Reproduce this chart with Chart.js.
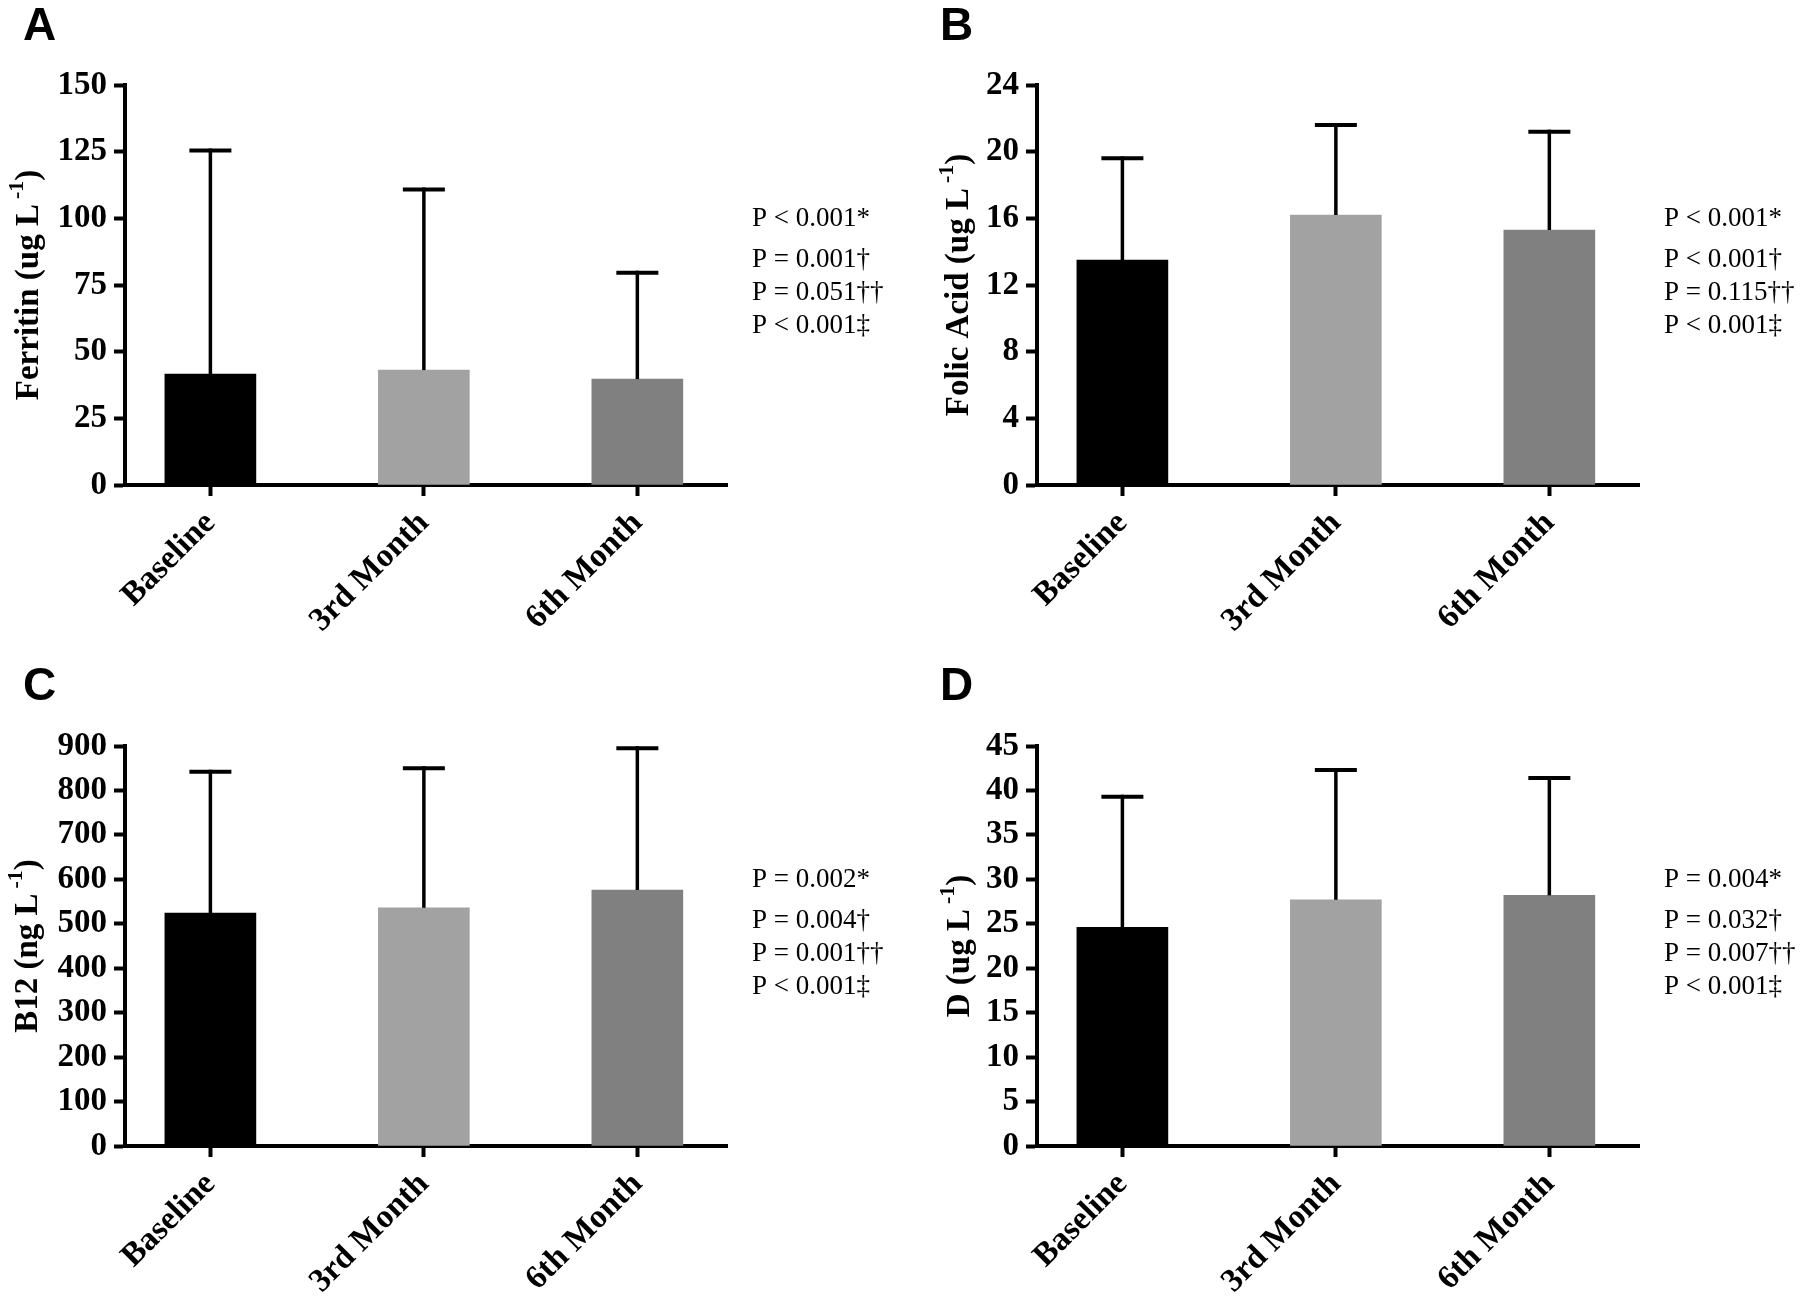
<!DOCTYPE html>
<html><head><meta charset="utf-8">
<script src="https://cdn.jsdelivr.net/npm/chart.js@4.4.1/dist/chart.umd.min.js"></script>
<style>
html,body{margin:0;padding:0;background:#fff;overflow:hidden;width:1816px;height:1299px;}
.panel{position:absolute;width:904px;height:650px;}
</style></head><body>
<div class="panel" style="left:0px;top:0px"><canvas id="cA"></canvas></div>
<div class="panel" style="left:912px;top:0px"><canvas id="cB"></canvas></div>
<div class="panel" style="left:0px;top:661px"><canvas id="cC"></canvas></div>
<div class="panel" style="left:912px;top:661px"><canvas id="cD"></canvas></div>
<script>
// ---- data ----
const categories = ['Baseline', '3rd Month', '6th Month'];
const barColors = ['#000000', '#a2a2a2', '#808080'];

const ferritinMean = [41.6, 43.1, 39.7];
const ferritinSD   = [83.8, 67.7, 39.9];
const ferritinTicks = [0, 150, 25];
const ferritinTitle = ['Ferritin (ug L', '-1', ')'];
const ferritinP = ['P < 0.001*', 'P = 0.001\u2020', 'P = 0.051\u2020\u2020', 'P < 0.001\u2021'];

const folicMean = [13.5, 16.2, 15.3];
const folicSD   = [6.1, 5.4, 5.9];
const folicTicks = [0, 24, 4];
const folicTitle = ['Folic Acid (ug L', '-1', ')'];
const folicP = ['P < 0.001*', 'P < 0.001\u2020', 'P = 0.115\u2020\u2020', 'P < 0.001\u2021'];

const b12Mean = [524, 536, 576];
const b12SD   = [318, 314, 319];
const b12Ticks = [0, 900, 100];
const b12Title = ['B12 (ng L', '-1', ')'];
const b12P = ['P = 0.002*', 'P = 0.004\u2020', 'P = 0.001\u2020\u2020', 'P < 0.001\u2021'];

const dMean = [24.6, 27.7, 28.2];
const dSD   = [14.7, 14.6, 13.2];
const dTicks = [0, 45, 5];
const dTitle = ['D (ug L', '-1', ')'];
const dP = ['P = 0.004*', 'P = 0.032\u2020', 'P = 0.007\u2020\u2020', 'P < 0.001\u2021'];

// ---- plugins ----
const errorBarPlugin = {
  id: 'errbars',
  afterDatasetsDraw(chart, args, opts) {
    const xs = chart.scales.x, ys = chart.scales.y, ctx = chart.ctx;
    ctx.save();
    ctx.strokeStyle = '#000';
    ctx.lineCap = 'butt';
    opts.means.forEach((m, i) => {
      const px = xs.getPixelForValue(i);
      const y0 = ys.getPixelForValue(m);
      const y1 = ys.getPixelForValue(m + opts.sds[i]);
      ctx.lineWidth = 3.5;
      ctx.beginPath(); ctx.moveTo(px, y0); ctx.lineTo(px, y1 - 2); ctx.stroke();
      ctx.lineWidth = 4;
      ctx.beginPath(); ctx.moveTo(px - 21, y1); ctx.lineTo(px + 21, y1); ctx.stroke();
    });
    ctx.restore();
  }
};

const annotPlugin = {
  id: 'annot',
  afterDraw(chart, args, o) {
    const ctx = chart.ctx, ca = chart.chartArea;
    ctx.save();
    ctx.fillStyle = '#000';
    // panel letter
    ctx.font = 'bold 46px "Liberation Sans", Arial, sans-serif';
    ctx.textAlign = 'left'; ctx.textBaseline = 'alphabetic';
    ctx.fillText(o.letter, o.letterX, o.letterY);
    // P values
    ctx.font = '27px "Liberation Serif", "Times New Roman", serif';
    const offs = [141, 182, 215, 248];
    o.pText.forEach((t, i) => ctx.fillText(t, ca.left + 627, ca.top + offs[i]));
    // rotated y title with superscript
    const f = 33, fs = 22;
    const mainFont = 'bold ' + f + 'px "Liberation Serif", "Times New Roman", serif';
    const supFont = 'bold ' + fs + 'px "Liberation Serif", "Times New Roman", serif';
    ctx.font = mainFont; const w1 = ctx.measureText(o.title[0]).width;
    const w3 = ctx.measureText(o.title[2]).width;
    ctx.font = supFont; const w2 = ctx.measureText(o.title[1]).width;
    const gap = 5;
    const total = w1 + gap + w2 + w3;
    ctx.translate(ca.left + o.titleX, (ca.top + ca.bottom) / 2);
    ctx.rotate(-Math.PI / 2);
    let x = -total / 2;
    ctx.font = mainFont; ctx.fillText(o.title[0], x, 0); x += w1 + gap;
    ctx.font = supFont; ctx.fillText(o.title[1], x, -15); x += w2;
    ctx.font = mainFont; ctx.fillText(o.title[2], x, 0);
    ctx.restore();
  }
};

const tickFont = { family: '"Liberation Serif", "Times New Roman", serif', weight: 'bold', size: 33 };

function makeChart(id, means, sds, yTicks, title, titleX, pText, letter, letterX, letterY) {
  const axisCommon = {
    border: { display: true, color: '#000', width: 4 },
    grid: { display: true, drawOnChartArea: false, drawTicks: true, tickLength: 11, tickWidth: 4, tickColor: '#000', offset: false }
  };
  return new Chart(document.getElementById(id), {
    type: 'bar',
    data: {
      datasets: [{
        data: categories.map((c, i) => ({ x: i, y: means[i] })),
        backgroundColor: barColors,
        borderWidth: 0,
        barThickness: 91
      }]
    },
    options: {
      responsive: true,
      maintainAspectRatio: false,
      animation: false,
      events: [],
      layout: { padding: { left: 0, right: 177, top: 85, bottom: 0 } },
      plugins: {
        legend: { display: false },
        tooltip: { enabled: false },
        errbars: { means: means, sds: sds },
        annot: { title: title, titleX: titleX, pText: pText, letter: letter, letterX: letterX, letterY: letterY }
      },
      scales: {
        x: Object.assign({}, axisCommon, {
          type: 'linear',
          offset: false,
          min: -0.4,
          max: 2.42,
          afterBuildTicks: (s) => { s.ticks = categories.map((c, i) => ({ value: i })); },
          afterFit: (s) => { s.height = 165; },
          ticks: {
            autoSkip: false,
            minRotation: 45, maxRotation: 45,
            padding: 8,
            color: '#000',
            font: tickFont,
            callback: (v) => categories[v]
          }
        }),
        y: Object.assign({}, axisCommon, {
          type: 'linear',
          min: yTicks[0],
          max: yTicks[1],
          afterFit: (s) => { s.width = 125; },
          ticks: { stepSize: yTicks[2], padding: 7, color: '#000', font: tickFont }
        })
      }
    },
    plugins: [errorBarPlugin, annotPlugin]
  });
}

makeChart('cA', ferritinMean, ferritinSD, ferritinTicks, ferritinTitle, -87.5, ferritinP, 'A', 23, 40);
makeChart('cB', folicMean, folicSD, folicTicks, folicTitle, -69, folicP, 'B', 28, 40);
makeChart('cC', b12Mean, b12SD, b12Ticks, b12Title, -88, b12P, 'C', 23, 39);
makeChart('cD', dMean, dSD, dTicks, dTitle, -68, dP, 'D', 28, 39);
</script>
</body></html>
